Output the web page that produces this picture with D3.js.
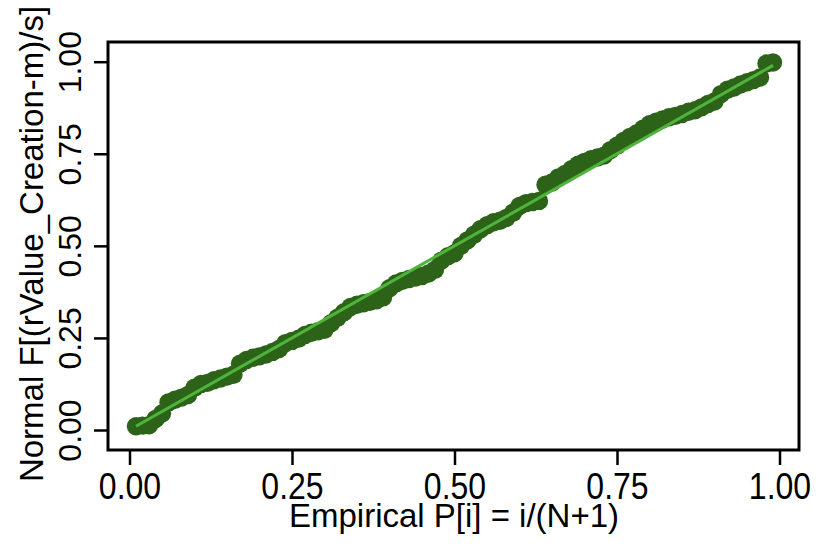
<!DOCTYPE html>
<html><head><meta charset="utf-8">
<script src="https://cdn.jsdelivr.net/npm/d3@7"></script>
<style>
html,body{margin:0;padding:0;background:#fff;}
svg{display:block;}
text{font-family:"Liberation Sans",Arial,Helvetica,sans-serif;fill:#000;}
</style></head>
<body>
<svg id="chart" width="823" height="547"></svg>
<script>
// Empirical P[i] = i/(N+1), N = 99
const empiricalP = [0.01,0.02,0.03,0.04,0.05,0.06,0.07,0.08,0.09,0.10,
0.11,0.12,0.13,0.14,0.15,0.16,0.17,0.18,0.19,0.20,
0.21,0.22,0.23,0.24,0.25,0.26,0.27,0.28,0.29,0.30,
0.31,0.32,0.33,0.34,0.35,0.36,0.37,0.38,0.39,0.40,
0.41,0.42,0.43,0.44,0.45,0.46,0.47,0.48,0.49,0.50,
0.51,0.52,0.53,0.54,0.55,0.56,0.57,0.58,0.59,0.60,
0.61,0.62,0.63,0.64,0.65,0.66,0.67,0.68,0.69,0.70,
0.71,0.72,0.73,0.74,0.75,0.76,0.77,0.78,0.79,0.80,
0.81,0.82,0.83,0.84,0.85,0.86,0.87,0.88,0.89,0.90,
0.91,0.92,0.93,0.94,0.95,0.96,0.97,0.98,0.99];
// Normal F[(rValue_Creation-m)/s]
const normalF = [0.010,0.012,0.013,0.030,0.045,0.075,0.082,0.088,0.095,0.115,
0.125,0.128,0.135,0.140,0.145,0.150,0.180,0.190,0.196,0.200,
0.205,0.212,0.220,0.236,0.242,0.248,0.258,0.264,0.268,0.272,
0.290,0.305,0.320,0.334,0.340,0.344,0.348,0.352,0.360,0.385,
0.398,0.405,0.410,0.414,0.418,0.425,0.435,0.460,0.472,0.480,
0.500,0.515,0.530,0.545,0.556,0.564,0.568,0.576,0.590,0.608,
0.616,0.619,0.622,0.666,0.672,0.686,0.695,0.708,0.720,0.728,
0.735,0.740,0.745,0.760,0.772,0.785,0.796,0.805,0.818,0.830,
0.837,0.843,0.849,0.853,0.858,0.864,0.868,0.876,0.885,0.892,
0.912,0.924,0.930,0.938,0.944,0.950,0.957,0.995,0.998];
const xTicks = [0, 0.25, 0.5, 0.75, 1];
const yTicks = [0, 0.25, 0.5, 0.75, 1];
const xTitle = "Empirical P[i] = i/(N+1)";
const yTitle = "Normal F[(rValue_Creation-m)/s]";

const svg = d3.select("#chart");
const x = d3.scaleLinear().domain([0, 1]).range([129.5, 779.5]);
const y = d3.scaleLinear().domain([0, 1]).range([430, 61.7]);
const fmt = d3.format(".2f");

const data = empiricalP.map((p, i) => ({p, f: normalF[i]}));

// points
svg.append("g").selectAll("circle").data(data).join("circle")
  .attr("cx", d => x(d.p)).attr("cy", d => y(d.f)).attr("r", 9.2)
  .attr("fill", "#2d6318");

// reference line
const pMin = d3.min(empiricalP), pMax = d3.max(empiricalP);
svg.append("line")
  .attr("x1", x(pMin)).attr("y1", y(pMin))
  .attr("x2", x(pMax)).attr("y2", y(pMax))
  .attr("stroke", "#4fb43c").attr("stroke-width", 3);

// box
svg.append("rect").attr("x", 108).attr("y", 42).attr("width", 691).attr("height", 408)
  .attr("fill", "none").attr("stroke", "#000").attr("stroke-width", 3);

// x axis
const sy = 1.15;
const gx = svg.append("g").attr("transform", "translate(0,451)")
  .call(d3.axisBottom(x).tickValues(xTicks).tickFormat(fmt).tickSize(14).tickSizeOuter(0));
gx.select(".domain").remove();
gx.selectAll(".tick line").attr("stroke", "#000").attr("stroke-width", 2.5);
gx.selectAll(".tick text").attr("y", 48 / sy).attr("dy", 0)
  .attr("transform", `scale(1,${sy})`)
  .style("font-size", "32px").attr("fill", "#000");

// y axis
const gy = svg.append("g").attr("transform", "translate(107,0)")
  .call(d3.axisLeft(y).tickValues(yTicks).tickFormat(fmt).tickSize(13).tickSizeOuter(0));
gy.select(".domain").remove();
gy.selectAll(".tick line").attr("stroke", "#000").attr("stroke-width", 2.5);
gy.selectAll(".tick text").attr("x", 0).attr("y", -26).attr("dy", 0)
  .attr("transform", "rotate(-90)").attr("text-anchor", "middle")
  .style("font-size", "32px").attr("fill", "#000");

// titles
svg.append("text").attr("x", 454).attr("y", 527).attr("text-anchor", "middle")
  .style("font-size", "33px").text(xTitle);
svg.append("text").attr("transform", "translate(43,244) rotate(-90)")
  .attr("text-anchor", "middle").style("font-size", "33px").text(yTitle);
</script>
</body></html>
